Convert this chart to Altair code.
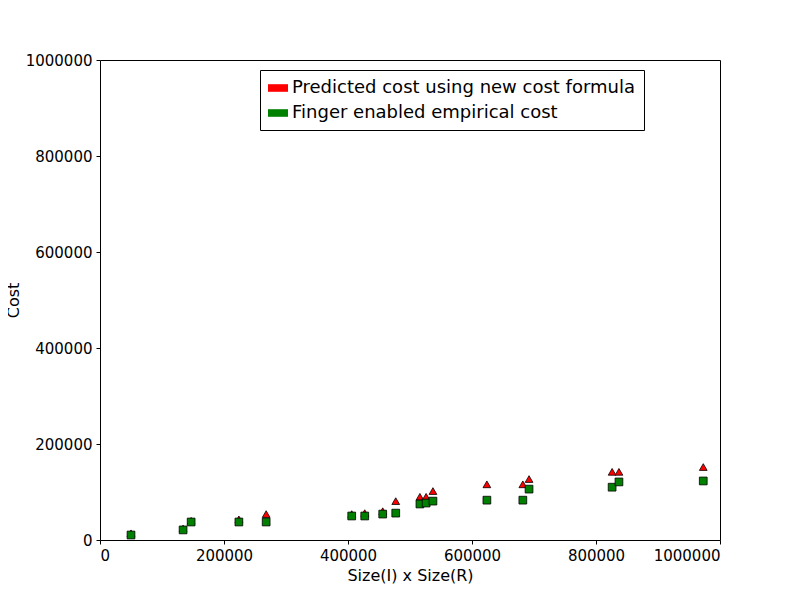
import altair as alt
import pandas as pd

sizes = [50000, 134000, 147000, 224000, 268000, 406000, 427000, 456000, 477000,
         516000, 526000, 537000, 624000, 682000, 692000, 826000, 837000, 973000]
predicted = [14000, 24000, 40000, 43000, 54000, 54000, 56000, 60000, 81000,
             90000, 90000, 102000, 116000, 116000, 127000, 142000, 142000, 152000]
empirical = [10400, 21000, 37500, 37500, 37500, 50000, 50000, 54000, 56000,
             75000, 77000, 81000, 83000, 83000, 106000, 110000, 121000, 123000]
series = ["Predicted cost using new cost formula", "Finger enabled empirical cost"]

df = pd.concat([
    pd.DataFrame({"x": sizes, "y": predicted, "s": series[0]}),
    pd.DataFrame({"x": sizes, "y": empirical, "s": series[1]}),
])

color = alt.Color("s:N", scale=alt.Scale(domain=series, range=["#ff0000", "#008000"]),
                  legend=alt.Legend(title=None, orient="none", legendX=160, legendY=10,
                                    symbolType="M-1,-0.38H1V0.38H-1Z", symbolSize=400,
                                    symbolStrokeWidth=0, labelFontSize=18, labelFont="DejaVu Sans",
                                    labelColor="black", rowPadding=6, padding=8,
                                    strokeColor="black", fillColor="white", symbolOpacity=1))
xs = alt.X("x:Q", scale=alt.Scale(domain=[0, 1000000], nice=False),
           axis=alt.Axis(title="Size(I) x Size(R)", values=list(range(0, 1000001, 200000)), format="d"))
ys = alt.Y("y:Q", scale=alt.Scale(domain=[0, 1000000], nice=False),
           axis=alt.Axis(title="Cost", values=list(range(0, 1000001, 200000)), format="d"))

pred = alt.Chart(df[df.s == series[0]]).mark_point(shape="triangle-up", filled=True, size=60,
                                                  stroke="black", strokeWidth=0.8, opacity=1).encode(x=xs, y=ys, color=color)
emp = alt.Chart(df[df.s == series[1]]).mark_point(shape="square", filled=True, size=60,
                                                 stroke="black", strokeWidth=0.8, opacity=1).encode(x=xs, y=ys, color=color)

chart = alt.layer(pred, emp).properties(
    width=620, height=480, autosize="none",
    padding={"left": 92, "top": 52, "right": 72, "bottom": 52}
).configure_view(stroke="black", strokeWidth=1).configure_axis(
    grid=False, domain=False, tickColor="black", tickSize=4, labelFont="DejaVu Sans",
    labelFontSize=15, labelColor="black", titleFont="DejaVu Sans", titleFontSize=16,
    titleFontWeight="normal", titleColor="black", labelPadding=4
).configure_legend(labelLimit=0)

chart.save("out.html", embed_options={"renderer": "svg", "actions": False})
